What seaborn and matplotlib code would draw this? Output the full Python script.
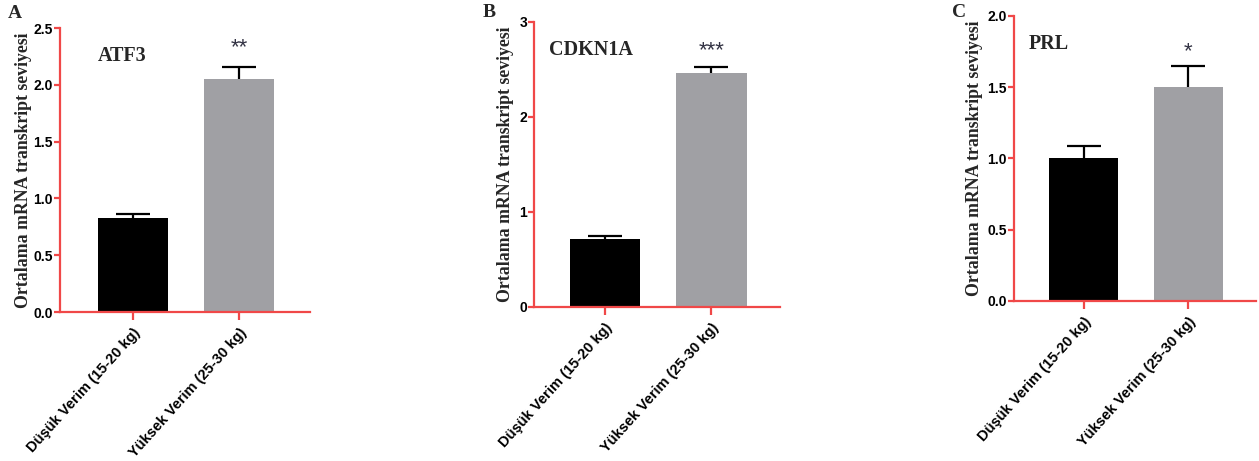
import matplotlib
matplotlib.use("Agg")
import matplotlib.pyplot as plt
import seaborn as sns
import pandas as pd

sns.set_style("white")
plt.rcParams['font.family'] = ['Liberation Sans', 'DejaVu Sans']

# --- data ---
groups = ['Düşük Verim (15-20 kg)', 'Yüksek Verim (25-30 kg)']
genes = ['ATF3', 'CDKN1A', 'PRL']
panel_letters = ['A', 'B', 'C']
atf3_mean = [0.83, 2.05]
atf3_err = [0.03, 0.11]
cdkn1a_mean = [0.72, 2.46]
cdkn1a_err = [0.03, 0.07]
prl_mean = [1.00, 1.50]
prl_err = [0.09, 0.15]
stars = ['**', '***', '*']
y_max = [2.5, 3.0, 2.0]
y_ticks = [[0.0, 0.5, 1.0, 1.5, 2.0, 2.5], [0, 1, 2, 3],
           [0.0, 0.5, 1.0, 1.5, 2.0]]
y_ticklabels = [['0.0', '0.5', '1.0', '1.5', '2.0', '2.5'],
                ['0', '1', '2', '3'],
                ['0.0', '0.5', '1.0', '1.5', '2.0']]
star_y = [2.33, 2.70, 1.75]

means = [atf3_mean, cdkn1a_mean, prl_mean]
errs = [atf3_err, cdkn1a_err, prl_err]

RED = '#F04848'
bar_colors = ['#000000', '#A0A0A4']

fig = plt.figure(figsize=(12.59, 4.61), dpi=100)

# axes positions [left, bottom, width, height] in figure fractions
positions = [
    [0.0477, 0.3232, 0.1986, 0.6160],
    [0.4241, 0.3341, 0.1954, 0.6182],
    [0.8054, 0.3471, 0.1922, 0.6182],
]
xlims = [(-0.689, 1.67), (-0.667, 1.643), (-0.667, 1.65)]
ylabel_x = [-0.112, -0.081, -0.13]
gene_xy = [(0.152, 0.9), (0.06, 0.9), (0.06, 0.9)]
letter_xy = [(0.006, 0.97), (0.383, 0.972), (0.756, 0.972)]

for i in range(3):
    ax = fig.add_axes(positions[i])
    df = pd.DataFrame({'group': groups, 'value': means[i]})
    sns.barplot(data=df, x='group', y='value', hue='group',
                palette=bar_colors, width=0.66, legend=False, ax=ax,
                errorbar=None, linewidth=0, saturation=1)
    eb = ax.errorbar(range(len(groups)), means[i],
                     yerr=[[0, 0], errs[i]], fmt='none', ecolor='black',
                     elinewidth=1.6, capsize=12, capthick=1.6, zorder=1)
    # keep only the upper caps
    eb[1][0].remove()

    ax.set_xlim(*xlims[i])
    ax.set_ylim(0, y_max[i])
    ax.set_yticks(y_ticks[i])
    ax.set_yticklabels(y_ticklabels[i], fontsize=10, fontweight='bold')
    ax.set_xticks(range(len(groups)))
    ax.set_xticklabels(groups, rotation=48, ha='right',
                       rotation_mode='anchor', fontsize=10.5,
                       fontweight='bold')
    ax.set_xlabel('')
    ax.set_ylabel('Ortalama mRNA transkript seviyesi',
                  family=['Liberation Serif', 'DejaVu Serif'],
                  fontweight='bold', fontsize=12.8)
    ax.yaxis.set_label_coords(ylabel_x[i], 0.5)

    for side in ['top', 'right']:
        ax.spines[side].set_visible(False)
    for side in ['left', 'bottom']:
        ax.spines[side].set_color(RED)
        ax.spines[side].set_linewidth(1.6)
    ax.tick_params(axis='y', colors=RED, labelcolor='black',
                   length=4, width=1.6, direction='out', left=True, pad=1)
    ax.tick_params(axis='x', colors=RED, labelcolor='black',
                   length=6, width=1.6, direction='out', bottom=True, pad=4)

    ax.text(gene_xy[i][0], gene_xy[i][1], genes[i], transform=ax.transAxes,
            family=['Liberation Serif', 'DejaVu Serif'], fontweight='bold',
            fontsize=14.5, va='center', ha='left')
    ax.text(1, star_y[i], stars[i], ha='center', va='center',
            fontsize=16, color='#333344')
    fig.text(letter_xy[i][0], letter_xy[i][1], panel_letters[i],
             family=['Liberation Serif', 'DejaVu Serif'], fontweight='bold',
             fontsize=14, va='center', ha='left')

fig.savefig('out.png', dpi=100)
